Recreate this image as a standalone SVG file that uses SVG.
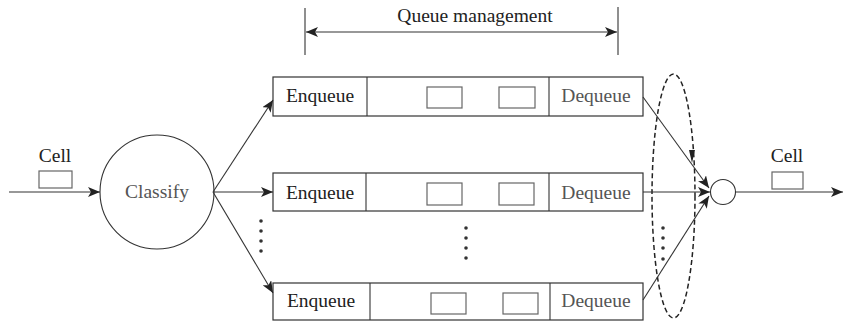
<svg xmlns="http://www.w3.org/2000/svg" width="843" height="321" viewBox="0 0 843 321">
<style>
.t{font-family:"Liberation Serif","Times New Roman",serif;font-size:19.5px;fill:#222}
.g{fill:#555}
.box{fill:#fff;stroke:#333;stroke-width:1.2}
.cell{fill:#fff;stroke:#666;stroke-width:1.2}
.ln{stroke:#333;stroke-width:1.1;fill:none}
</style>
<defs>
<marker id="ah" viewBox="0 0 12 10" refX="12" refY="5" markerWidth="12" markerHeight="10" markerUnits="userSpaceOnUse" orient="auto-start-reverse">
<path d="M0,0 L12,5 L0,10 L3,5 Z" fill="#222"/>
</marker>
</defs>
<rect width="843" height="321" fill="#fff"/>

<g id="queue-management">
<line class="ln" x1="305" y1="8" x2="305" y2="55"/>
<line class="ln" x1="618" y1="7" x2="618" y2="55"/>
<line class="ln" x1="306" y1="32" x2="617" y2="32" marker-start="url(#ah)" marker-end="url(#ah)"/>
<text class="t" x="475" y="22" text-anchor="middle">Queue management</text>
</g>

<g id="cell-in">
<text class="t" x="55" y="162" text-anchor="middle">Cell</text>
<rect class="cell" x="39" y="171" width="33" height="17"/>
</g>

<g id="classify">
<circle cx="157" cy="192" r="57" fill="#fff" stroke="#333" stroke-width="1.1"/>
<text class="t g" x="157" y="198" text-anchor="middle">Classify</text>
</g>

<g id="queue1">
<rect class="box" x="273" y="77" width="370" height="39"/>
<line class="ln" x1="367" y1="77" x2="367" y2="116"/>
<line class="ln" x1="549" y1="77" x2="549" y2="116"/>
<rect class="cell" x="427" y="87" width="35" height="21"/>
<rect class="cell" x="499" y="87" width="36" height="21"/>
<text class="t" x="320" y="102" text-anchor="middle">Enqueue</text>
<text class="t g" x="596" y="102" text-anchor="middle">Dequeue</text>
</g>

<g id="queue2">
<rect class="box" x="273" y="173" width="370" height="38"/>
<line class="ln" x1="366" y1="173" x2="366" y2="211"/>
<line class="ln" x1="549" y1="173" x2="549" y2="211"/>
<rect class="cell" x="427" y="183" width="35" height="22"/>
<rect class="cell" x="499" y="183" width="35" height="22"/>
<text class="t" x="320" y="199" text-anchor="middle">Enqueue</text>
<text class="t g" x="596" y="199" text-anchor="middle">Dequeue</text>
</g>

<g id="queue3">
<rect class="box" x="273" y="283" width="370" height="37"/>
<line class="ln" x1="370" y1="283" x2="370" y2="320"/>
<line class="ln" x1="550" y1="283" x2="550" y2="320"/>
<rect class="cell" x="431" y="293" width="35" height="21"/>
<rect class="cell" x="503" y="293" width="35" height="21"/>
<text class="t" x="321" y="307" text-anchor="middle">Enqueue</text>
<text class="t g" x="596" y="307" text-anchor="middle">Dequeue</text>
</g>

<g id="dots" fill="#333">
<circle cx="261" cy="221" r="1.8"/><circle cx="261" cy="231" r="1.8"/><circle cx="261" cy="241" r="1.8"/><circle cx="261" cy="251" r="1.8"/>
<circle cx="466" cy="228" r="1.8"/><circle cx="466" cy="238" r="1.8"/><circle cx="466" cy="248" r="1.8"/><circle cx="466" cy="258" r="1.8"/>
<circle cx="663" cy="228" r="1.8"/><circle cx="663" cy="238" r="1.8"/><circle cx="663" cy="248" r="1.8"/><circle cx="663" cy="259" r="1.8"/>
</g>

<g id="scheduler">
<ellipse cx="673.5" cy="196" rx="21.5" ry="122" fill="none" stroke="#222" stroke-width="1.5" stroke-dasharray="5,3"/>
<path d="M689,150 L695,150 L692,163 Z" fill="#222"/>
<circle cx="723" cy="192" r="12.5" fill="#fff" stroke="#333" stroke-width="1.1"/>
</g>

<g id="cell-out">
<text class="t" x="787" y="162" text-anchor="middle">Cell</text>
<rect class="cell" x="772" y="172" width="31" height="17"/>
</g>

<g id="connectors">
<line class="ln" x1="9" y1="192" x2="100" y2="192" marker-end="url(#ah)"/>
<line class="ln" x1="213" y1="192" x2="273" y2="100" marker-end="url(#ah)"/>
<line class="ln" x1="214" y1="192" x2="273" y2="192" marker-end="url(#ah)"/>
<line class="ln" x1="213" y1="192" x2="273" y2="293" marker-end="url(#ah)"/>
<line class="ln" x1="643" y1="97" x2="709" y2="188" marker-end="url(#ah)"/>
<line class="ln" x1="643" y1="192" x2="710" y2="192" marker-end="url(#ah)"/>
<line class="ln" x1="643" y1="300" x2="709" y2="196" marker-end="url(#ah)"/>
<line class="ln" x1="735.5" y1="192" x2="843" y2="192" marker-end="url(#ah)"/>
</g>
</svg>
